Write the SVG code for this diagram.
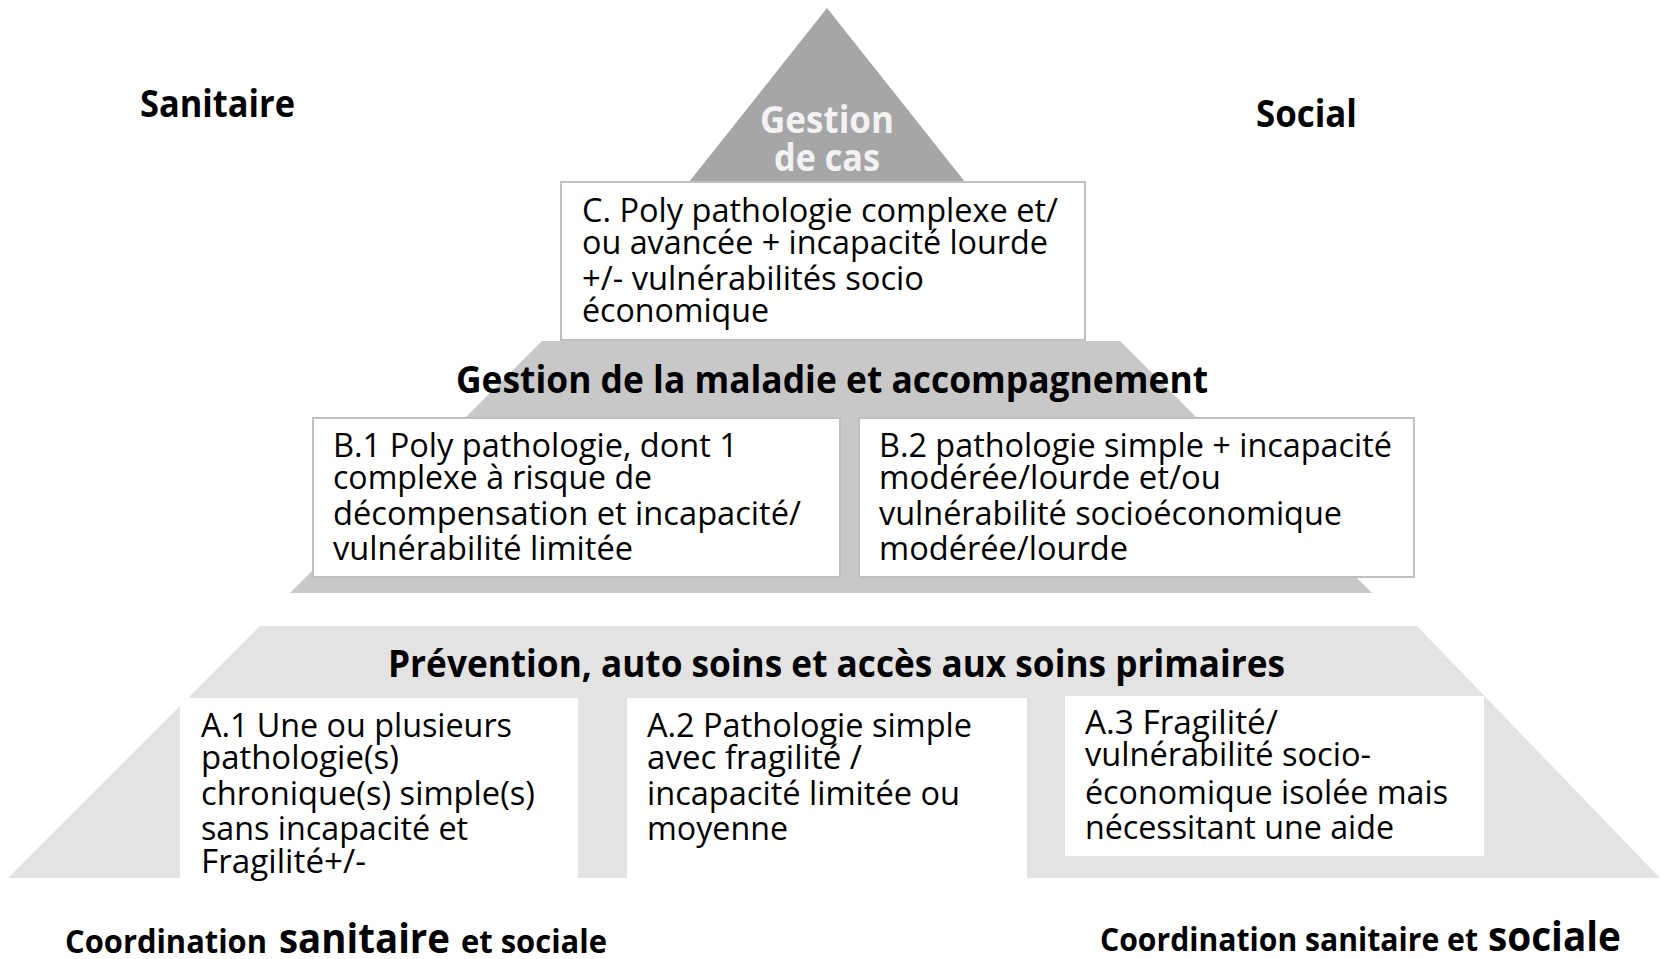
<svg xmlns="http://www.w3.org/2000/svg" width="1660" height="959" viewBox="0 0 1660 959">
<style>
.b{font-family:"Open Sans","Noto Sans",sans-serif;font-weight:700;fill:#000}
.r{font-family:"Open Sans","Noto Sans",sans-serif;font-weight:400;fill:#000;font-size:33px}
.h{font-size:38px}
.s{font-size:33px}
.L{font-size:42px}
.box{fill:#fff;stroke:#bfbfbf;stroke-width:2}
.wbox{fill:#fff}
</style>
<rect width="1660" height="959" fill="#fff"/>
<g id="level-bottom">
<polygon points="260,626 1417,626 1660,878 8,878" fill="#e3e3e3"/>
<text class="b h" x="388" y="677" textLength="897" lengthAdjust="spacingAndGlyphs">Prévention, auto soins et accès aux soins primaires</text>
</g>
<g id="level-middle">
<polygon points="542,341 1120,341 1372,593 290,593" fill="#c8c8c8"/>
<text class="b h" x="456" y="393" textLength="752" lengthAdjust="spacingAndGlyphs">Gestion de la maladie et accompagnement</text>
</g>
<g id="level-top">
<polygon points="827,8 689,182 965,182" fill="#a6a6a6"/>
<text class="b h" x="827" y="133" text-anchor="middle" fill="#f2f2f2" style="fill:#f2f2f2" textLength="134" lengthAdjust="spacingAndGlyphs">Gestion</text>
<text class="b h" x="827" y="171" text-anchor="middle" style="fill:#f2f2f2" textLength="106" lengthAdjust="spacingAndGlyphs">de cas</text>
</g>
<g id="box-C">
<rect class="box" x="561" y="182" width="524" height="158"/>
<text class="r" x="582" y="222" textLength="476" lengthAdjust="spacingAndGlyphs">C. Poly pathologie complexe et/</text>
<text class="r" x="582" y="254" textLength="466" lengthAdjust="spacingAndGlyphs">ou avancée + incapacité lourde</text>
<text class="r" x="582" y="290" textLength="342" lengthAdjust="spacingAndGlyphs">+/- vulnérabilités socio</text>
<text class="r" x="582" y="322" textLength="187" lengthAdjust="spacingAndGlyphs">économique</text>
</g>
<g id="box-B1">
<rect class="box" x="313" y="418" width="527" height="159"/>
<text class="r" x="333" y="457" textLength="405" lengthAdjust="spacingAndGlyphs">B.1 Poly pathologie, dont 1</text>
<text class="r" x="333" y="489" textLength="319" lengthAdjust="spacingAndGlyphs">complexe à risque de</text>
<text class="r" x="333" y="525" textLength="468" lengthAdjust="spacingAndGlyphs">décompensation et incapacité/</text>
<text class="r" x="333" y="560" textLength="300" lengthAdjust="spacingAndGlyphs">vulnérabilité limitée</text>
</g>
<g id="box-B2">
<rect class="box" x="859" y="418" width="555" height="159"/>
<text class="r" x="879" y="457" textLength="513" lengthAdjust="spacingAndGlyphs">B.2 pathologie simple + incapacité</text>
<text class="r" x="879" y="489" textLength="342" lengthAdjust="spacingAndGlyphs">modérée/lourde et/ou</text>
<text class="r" x="879" y="525" textLength="463" lengthAdjust="spacingAndGlyphs">vulnérabilité socioéconomique</text>
<text class="r" x="879" y="560" textLength="249" lengthAdjust="spacingAndGlyphs">modérée/lourde</text>
</g>
<g id="box-A1">
<rect class="wbox" x="180" y="698" width="398" height="180"/>
<text class="r" x="201" y="737" textLength="311" lengthAdjust="spacingAndGlyphs">A.1 Une ou plusieurs</text>
<text class="r" x="201" y="769" textLength="198" lengthAdjust="spacingAndGlyphs">pathologie(s)</text>
<text class="r" x="201" y="805" textLength="334" lengthAdjust="spacingAndGlyphs">chronique(s) simple(s)</text>
<text class="r" x="201" y="840" textLength="267" lengthAdjust="spacingAndGlyphs">sans incapacité et</text>
<text class="r" x="201" y="873" textLength="165" lengthAdjust="spacingAndGlyphs">Fragilité+/-</text>
</g>
<g id="box-A2">
<rect class="wbox" x="627" y="698" width="400" height="180"/>
<text class="r" x="647" y="737" textLength="325" lengthAdjust="spacingAndGlyphs">A.2 Pathologie simple</text>
<text class="r" x="647" y="769" textLength="215" lengthAdjust="spacingAndGlyphs">avec fragilité /</text>
<text class="r" x="647" y="805" textLength="313" lengthAdjust="spacingAndGlyphs">incapacité limitée ou</text>
<text class="r" x="647" y="840" textLength="141" lengthAdjust="spacingAndGlyphs">moyenne</text>
</g>
<g id="box-A3">
<rect class="wbox" x="1065" y="696" width="419" height="160"/>
<text class="r" x="1085" y="734" textLength="193" lengthAdjust="spacingAndGlyphs">A.3 Fragilité/</text>
<text class="r" x="1085" y="766" textLength="286" lengthAdjust="spacingAndGlyphs">vulnérabilité socio-</text>
<text class="r" x="1085" y="804" textLength="363" lengthAdjust="spacingAndGlyphs">économique isolée mais</text>
<text class="r" x="1085" y="839" textLength="309" lengthAdjust="spacingAndGlyphs">nécessitant une aide</text>
</g>
<g id="label-sanitaire">
<text class="b h" x="140" y="117" textLength="155" lengthAdjust="spacingAndGlyphs">Sanitaire</text>
</g>
<g id="label-social">
<text class="b h" x="1256" y="127" textLength="101" lengthAdjust="spacingAndGlyphs">Social</text>
</g>
<g id="label-coord-left">
<text class="b s" x="65" y="953" textLength="202" lengthAdjust="spacingAndGlyphs">Coordination</text>
<text class="b L" x="279" y="953" textLength="171" lengthAdjust="spacingAndGlyphs">sanitaire</text>
<text class="b s" x="461" y="953" textLength="146" lengthAdjust="spacingAndGlyphs">et sociale</text>
</g>
<g id="label-coord-right">
<text class="b s" x="1100" y="951" textLength="378" lengthAdjust="spacingAndGlyphs">Coordination sanitaire et</text>
<text class="b L" x="1488" y="951" textLength="133" lengthAdjust="spacingAndGlyphs">sociale</text>
</g>
<g id="connectors"/>
</svg>
